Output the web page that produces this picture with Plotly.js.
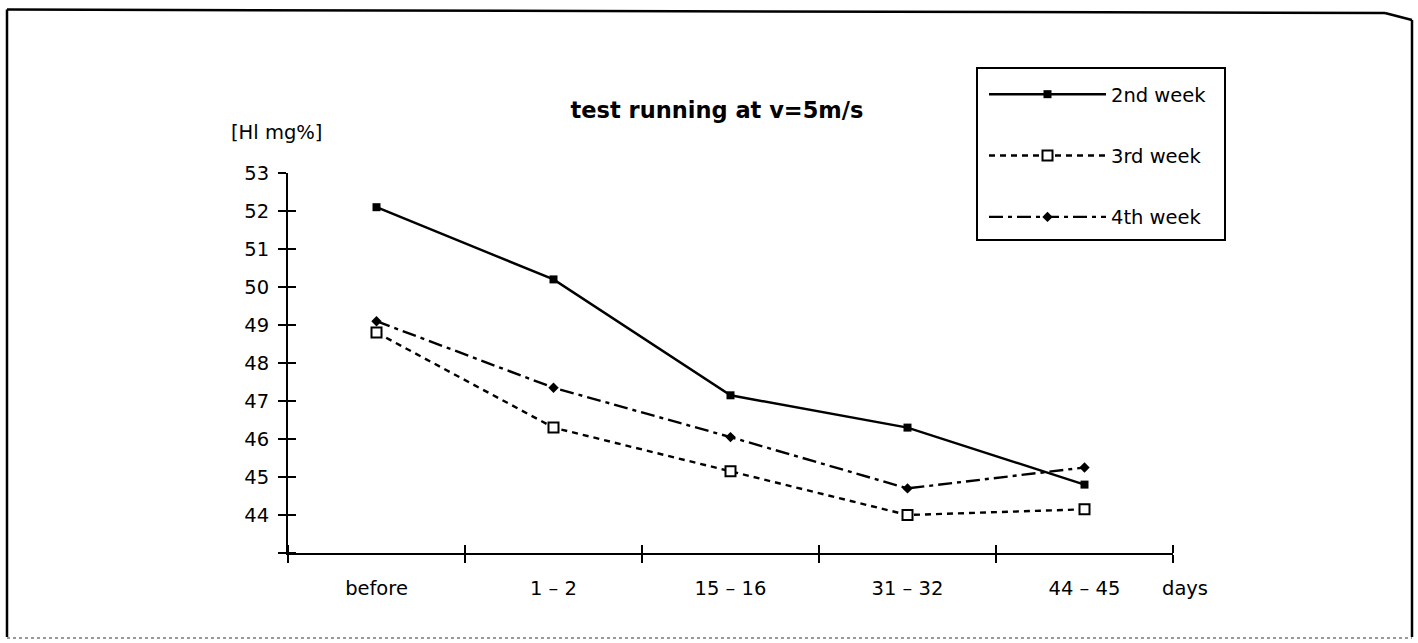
<!DOCTYPE html>
<html>
<head>
<meta charset="utf-8">
<script src="https://cdn.plot.ly/plotly-3.0.1.min.js"></script>
<style>html,body{margin:0;padding:0;background:#fff;}#chart{width:1418px;height:643px;}</style>
</head>
<body>
<div id="chart"></div>
<script>
// ---- data ----
const categories = ['before', '1 \u2013 2', '15 \u2013 16', '31 \u2013 32', '44 \u2013 45'];
const week2 = [52.1, 50.2, 47.15, 46.3, 44.8];
const week3 = [48.8, 46.3, 45.15, 44.0, 44.15];
const week4 = [49.1, 47.35, 46.05, 44.7, 45.25];
const seriesNames = ['2nd week', '3rd week', '4th week'];
const yTickVals = [43, 44, 45, 46, 47, 48, 49, 50, 51, 52, 53];
const yTickText = ['', '44', '45', '46', '47', '48', '49', '50', '51', '52', '53'];

// ---- geometry ----
const W = 1418, H = 643;
const M = {l: 288, r: 245, t: 173, b: 90};
const PW = W - M.l - M.r, PH = H - M.t - M.b;
const px = x => (x - M.l) / PW;
const py = y => (H - M.b - y) / PH;
const FONT = 'DejaVu Sans, Arial, sans-serif';
const fs = 19.5;
const LW = 2.4;
const catIndex = categories.map((c, i) => i);
const bnd = categories.map((c, i) => i - 0.5).concat([categories.length - 0.5]);

const traces = [
  {x: categories, y: week2, name: seriesNames[0], legendgroup: 'a', type: 'scatter', mode: 'lines+markers',
   line: {color: '#000', width: LW, dash: 'solid'},
   marker: {symbol: 'square', size: 8, color: '#000'}},
  {x: categories, y: week3, name: seriesNames[1], legendgroup: 'b', type: 'scatter', mode: 'lines+markers',
   line: {color: '#000', width: LW, dash: '6px,5px'},
   marker: {symbol: 'square', size: 10, color: '#fff', line: {color: '#000', width: 2}}},
  {x: categories, y: week4, name: seriesNames[2], legendgroup: 'c', type: 'scatter', mode: 'lines+markers',
   line: {color: '#000', width: LW, dash: '14px,5px,4px,5px'},
   marker: {symbol: 'diamond', size: 8, color: '#000'}},
  // invisible helper trace so the overlay x axis (upper half of the crossing ticks) gets drawn
  {x: catIndex, y: week2, xaxis: 'x2', yaxis: 'y', type: 'scatter', mode: 'markers',
   marker: {opacity: 0, size: 1}, showlegend: false, hoverinfo: 'skip'}
];

const layout = {
  width: W, height: H,
  margin: M,
  paper_bgcolor: '#fff', plot_bgcolor: '#fff',
  font: {family: FONT, size: fs, color: '#000'},
  title: {text: 'test running at v=5m/s', font: {family: FONT, size: 22.5, weight: 'bold', color: '#000'},
          xref: 'container', yref: 'container', x: 717 / W, xanchor: 'center', y: 1 - 110 / H, yanchor: 'middle'},
  showlegend: true,
  legend: {x: px(984), y: py(75), xanchor: 'left', yanchor: 'top', bgcolor: 'rgba(0,0,0,0)',
           borderwidth: 0, font: {family: FONT, size: fs, color: '#000'},
           itemwidth: 117, tracegroupgap: 33, traceorder: 'grouped'},
  xaxis: {type: 'category', categoryorder: 'array', categoryarray: categories,
          range: [-0.5, categories.length - 0.5], tickson: 'boundaries',
          ticks: 'outside', ticklen: 8, tickwidth: 2, tickcolor: '#000',
          showline: true, linewidth: 2, linecolor: '#000', showgrid: false, zeroline: false,
          tickfont: {family: FONT, size: fs, color: '#000'}, ticklabelstandoff: 17, fixedrange: true},
  xaxis2: {type: 'linear', overlaying: 'x', anchor: 'free', position: 0, side: 'top',
           range: [-0.5, categories.length - 0.5], tickvals: bnd,
           ticks: 'outside', ticklen: 8, tickwidth: 2, tickcolor: '#000', showticklabels: false,
           showline: false, showgrid: false, zeroline: false, fixedrange: true},
  yaxis: {range: [43, 53], tickvals: yTickVals, ticktext: yTickText,
          ticks: 'outside', ticklen: 8, tickwidth: 2, tickcolor: '#000',
          minor: {tickvals: yTickVals.map(v => v + 0.001), ticks: 'inside', ticklen: 8, tickwidth: 2, tickcolor: '#000', showgrid: false},
          showline: true, linewidth: 2, linecolor: '#000', showgrid: false, zeroline: false,
          tickfont: {family: FONT, size: fs, color: '#000'}, ticklabelstandoff: 5, fixedrange: true},
  annotations: [
    {text: '[Hl mg%]', xref: 'paper', yref: 'paper', x: px(229), y: py(133), xanchor: 'left', yanchor: 'middle',
     showarrow: false, font: {family: FONT, size: fs, color: '#000'}},
    {text: 'days', xref: 'paper', yref: 'paper', x: px(1160), y: py(588), xanchor: 'left', yanchor: 'middle',
     showarrow: false, font: {family: FONT, size: fs, color: '#000'}}
  ],
  shapes: [
    // legend frame
    {type: 'rect', xref: 'paper', yref: 'paper', x0: px(977), y0: py(68), x1: px(1225), y1: py(240),
     line: {color: '#000', width: 2}, fillcolor: 'rgba(0,0,0,0)'},
    // page frame
    {type: 'line', xref: 'paper', yref: 'paper', x0: px(7), y0: py(9.5), x1: px(7), y1: py(637), line: {color: '#000', width: 2.5}},
    {type: 'line', xref: 'paper', yref: 'paper', x0: px(7), y0: py(9.5), x1: px(1385), y1: py(13), line: {color: '#000', width: 2.5}},
    {type: 'line', xref: 'paper', yref: 'paper', x0: px(1385), y0: py(13), x1: px(1412), y1: py(20), line: {color: '#000', width: 2.5}},
    {type: 'line', xref: 'paper', yref: 'paper', x0: px(1412), y0: py(20), x1: px(1412), y1: py(637), line: {color: '#000', width: 2.5}},
    {type: 'line', xref: 'paper', yref: 'paper', x0: px(7), y0: py(638), x1: px(1412), y1: py(638), line: {color: '#9a9a9a', width: 2, dash: 'dot'}}
  ]
};

Plotly.newPlot('chart', traces, layout, {staticPlot: true, displayModeBar: false});
</script>
</body>
</html>
